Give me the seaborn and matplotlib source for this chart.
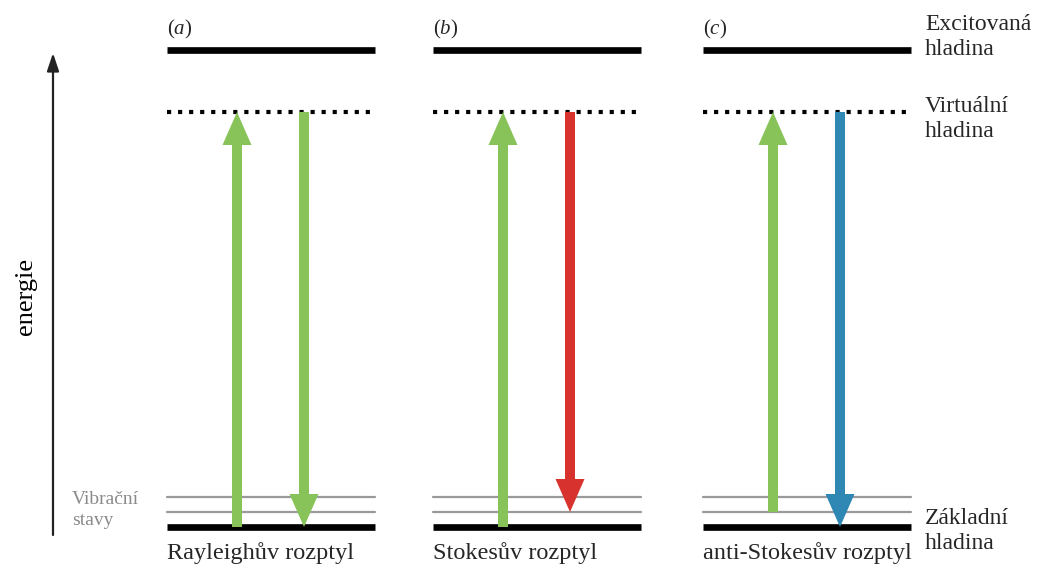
import matplotlib
matplotlib.use("Agg")
import matplotlib.pyplot as plt
import seaborn as sns
import pandas as pd
import numpy as np

# ---------------- data ----------------
panel_letters = ["a", "b", "c"]
process_names = ["Rayleighův rozptyl", "Stokesův rozptyl", "anti-Stokesův rozptyl"]
level_names = ["Excitovaná\nhladina", "Virtuální\nhladina", "Základní\nhladina"]
vib_label = "Vibrační\nstavy"
axis_label = "energie"

# energies (relative units, ground = 0)
E_ground = 0
E_vib = [15, 30]
E_virtual = 415
E_excited = 477

# arrows per panel: (start energy, end energy, colour key)
up_start = [0, 0, 15]
up_end = [415, 415, 415]
down_start = [415, 415, 415]
down_end = [0, 15, 0]
down_colour = ["green", "red", "blue"]

colours = {"green": "#88c35a", "red": "#d8322e", "blue": "#2f87b3"}

# ---------------- layout ----------------
W, H = 1038, 567
panel_x0 = [167, 433, 703]
panel_w = 208
up_dx = 70
down_dx = 137

sns.set_theme(style="white")
plt.rcParams["font.family"] = ["Liberation Serif", "DejaVu Serif"]
plt.rcParams["mathtext.fontset"] = "custom"
plt.rcParams["mathtext.rm"] = "Liberation Serif"
plt.rcParams["mathtext.it"] = "Liberation Serif:italic"

fig = plt.figure(figsize=(W / 100, H / 100), dpi=100)
ax = fig.add_axes([0, 0, 1, 1])
ax.set_xlim(0, W)
y_top = 527
ax.set_ylim(y_top - H, y_top)
ax.axis("off")

# level lines via seaborn
rows = []
for i, x0 in enumerate(panel_x0):
    rows.append(dict(x=x0, E=E_excited, key=f"exc{i}"))
    rows.append(dict(x=x0 + panel_w, E=E_excited, key=f"exc{i}"))
    rows.append(dict(x=x0, E=E_ground, key=f"gnd{i}"))
    rows.append(dict(x=x0 + panel_w, E=E_ground, key=f"gnd{i}"))
solid = pd.DataFrame(rows)
sns.lineplot(data=solid, x="x", y="E", units="key", estimator=None,
             color="black", lw=4.8, ax=ax, legend=False,
             solid_capstyle="butt")

rows = []
for i, x0 in enumerate(panel_x0):
    for j, ev in enumerate(E_vib):
        rows.append(dict(x=x0, E=ev, key=f"v{i}{j}"))
        rows.append(dict(x=x0 + panel_w, E=ev, key=f"v{i}{j}"))
vib = pd.DataFrame(rows)
sns.lineplot(data=vib, x="x", y="E", units="key", estimator=None,
             color="#9a9a9a", lw=1.6, ax=ax, legend=False)

rows = []
for i, x0 in enumerate(panel_x0):
    rows.append(dict(x=x0, E=E_virtual, key=f"vir{i}"))
    rows.append(dict(x=x0 + panel_w - 4, E=E_virtual, key=f"vir{i}"))
vir = pd.DataFrame(rows)
sns.lineplot(data=vir, x="x", y="E", units="key", estimator=None,
             color="black", lw=3.0, ax=ax, legend=False,
             linestyle=(0, (1, 1.65)), dash_capstyle="butt")

# arrows
for i, x0 in enumerate(panel_x0):
    xu = x0 + up_dx
    ax.arrow(xu, up_start[i], 0, up_end[i] - up_start[i], width=10,
             head_width=29, head_length=33, length_includes_head=True,
             color=colours["green"], lw=0, zorder=3)
    xd = x0 + down_dx
    ax.arrow(xd, down_start[i], 0, down_end[i] - down_start[i], width=10,
             head_width=29, head_length=33, length_includes_head=True,
             color=colours[down_colour[i]], lw=0, zorder=3)

# energy axis arrow
ax.annotate("", xy=(53, y_top - 53), xytext=(53, y_top - 535),
            arrowprops=dict(arrowstyle="-|>,head_width=0.3,head_length=0.9",
                            color="#222222", lw=1.6, shrinkA=0, shrinkB=0))
ax.text(26, y_top - 296, axis_label, rotation=90, ha="center", va="center",
        fontsize=19, color="black")

# panel labels
for i, x0 in enumerate(panel_x0):
    ax.text(x0, y_top - 29, r"$\mathrm{(}\mathit{" + panel_letters[i] + r"}\mathrm{)}$",
            ha="left", va="center", fontsize=15)
    ax.text(x0, y_top - 553, process_names[i], ha="left", va="center",
            fontsize=17.5)

# right level labels
label_y = [37, 119, 531]
for name, yy in zip(level_names, label_y):
    ax.text(925, y_top - yy, name, ha="left", va="center", fontsize=17,
            linespacing=1.25)

ax.text(72, y_top - 510, vib_label, ha="left", va="center", fontsize=14,
        color="#8a8a8a", linespacing=1.3)

fig.savefig("out.png", dpi=100, facecolor="white")
